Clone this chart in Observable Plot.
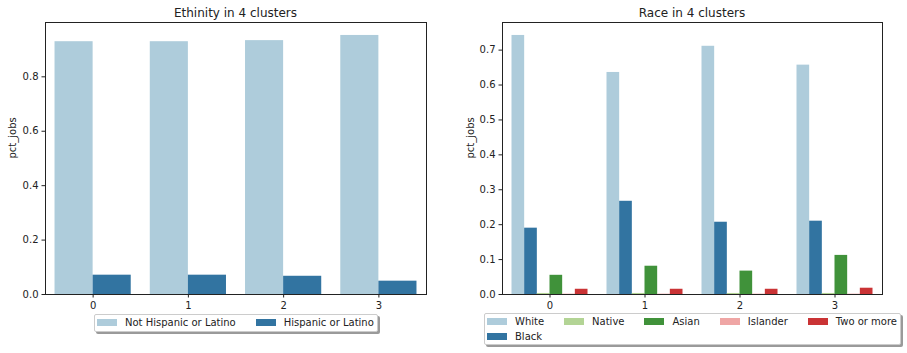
<!DOCTYPE html>
<html><head><meta charset="utf-8">
<script src="https://cdn.jsdelivr.net/npm/d3@7"></script>
<script src="https://cdn.jsdelivr.net/npm/@observablehq/plot@0.6"></script>
<style>
body{margin:0;background:#fff;font-family:"DejaVu Sans",sans-serif;color:#222}
#page{position:relative;width:907px;height:353px;overflow:hidden;background:#fff}
.panel{position:absolute;top:0}
.title{position:absolute;font-size:12px;white-space:nowrap;transform:translateX(-50%);line-height:14px}
.legend{position:absolute;border:1px solid #ccc;border-radius:2px;box-shadow:2px 2px 0 #9a9a9a;background:#fff;display:flex;padding:2px 3px 2px 2px;gap:20px;font-size:10px}
.col{display:flex;flex-direction:column;gap:3px}
.item{display:flex;align-items:center;height:11.7px;white-space:nowrap}
.sw{width:20px;height:7px;margin-right:8px;flex:none}
</style></head>
<body><div id="page"></div>
<script>
// ---- data ----
const clusters = [0, 1, 2, 3];

const ethnicitySeries = ["Not Hispanic or Latino", "Hispanic or Latino"];
const notHispanic = [0.929, 0.929, 0.933, 0.952];
const hispanic    = [0.071, 0.071, 0.067, 0.049];

const raceSeries = ["White", "Black", "Native", "Asian", "Islander", "Two or more"];
const white     = [0.742, 0.636, 0.711, 0.657];
const black     = [0.190, 0.267, 0.207, 0.210];
const native    = [0.003, 0.003, 0.003, 0.003];
const asian     = [0.055, 0.081, 0.067, 0.112];
const islander  = [0.001, 0.001, 0.001, 0.001];
const twoOrMore = [0.015, 0.015, 0.015, 0.018];

const ethTicks  = [0, 0.2, 0.4, 0.6, 0.8];
const raceTicks = [0, 0.1, 0.2, 0.3, 0.4, 0.5, 0.6, 0.7];

const ethColors  = ["#aeccdb", "#3274a1"];
const raceColors = ["#aeccdb", "#3274a1", "#b3d495", "#40923a", "#efa6a5", "#ca3335"];

// ---- build ----
const page = document.getElementById("page");

function rowsFor(series, values) {
  const w = 0.8 / series.length;
  const rows = [];
  clusters.forEach((c, i) => {
    series.forEach((s, k) => {
      const x1 = c - 0.4 + k * w;
      rows.push({cluster: c, series: s, value: values[k][i], x1, x2: x1 + w});
    });
  });
  return rows;
}

function chart({series, values, colors, ticks, left, width, marginLeft, marginRight, title, labelDx}) {
  const rows = rowsFor(series, values);
  const ymax = d3.max(rows, d => d.value) * 1.05;
  const svg = Plot.plot({
    width, height: 316,
    marginTop: 22, marginBottom: 22, marginLeft, marginRight,
    style: {fontFamily: "DejaVu Sans", fontSize: "10px", color: "#222", background: "transparent", overflow: "visible"},
    x: {domain: [-0.5, 3.5]},
    y: {domain: [0, ymax]},
    color: {domain: series, range: colors},
    marks: [
      Plot.rect(rows, {x1: "x1", x2: "x2", y1: 0, y2: "value", fill: "series"}),
      Plot.frame({stroke: "#222"}),
      Plot.axisX({ticks: clusters, tickFormat: d => String(d), tickSize: 3.5, tickPadding: 3.5, label: null}),
      Plot.axisY({ticks, tickFormat: d3.format(".1f"), tickSize: 3.5, tickPadding: 3.5, label: null}),
      Plot.text(["pct_jobs"], {frameAnchor: "left", rotate: -90, dx: labelDx, fontSize: 10})
    ]
  });
  const wrap = document.createElement("div");
  wrap.className = "panel";
  wrap.style.left = left + "px";
  wrap.appendChild(svg);
  page.appendChild(wrap);
  const t = document.createElement("div");
  t.className = "title";
  t.textContent = title;
  t.style.left = (left + marginLeft + (width - marginLeft - marginRight) / 2) + "px";
  t.style.top = "6px";
  page.appendChild(t);
}

function legend(series, colors, ncol, left, top) {
  const n = series.length;
  const nrows = Math.floor(n / ncol), large = n % ncol;
  const perCol = [];
  for (let i = 0; i < ncol; i++) perCol.push(i < large ? nrows + 1 : nrows);
  const box = document.createElement("div");
  box.className = "legend";
  box.style.left = left + "px";
  box.style.top = top + "px";
  let idx = 0;
  perCol.forEach(cnt => {
    if (!cnt) return;
    const col = document.createElement("div");
    col.className = "col";
    for (let r = 0; r < cnt; r++, idx++) {
      const it = document.createElement("div");
      it.className = "item";
      const sw = document.createElement("span");
      sw.className = "sw";
      sw.style.background = colors[idx];
      const tx = document.createElement("span");
      tx.textContent = series[idx];
      it.appendChild(sw); it.appendChild(tx);
      col.appendChild(it);
    }
    box.appendChild(col);
  });
  page.appendChild(box);
}

chart({series: ethnicitySeries, values: [notHispanic, hispanic], colors: ethColors, ticks: ethTicks,
  left: 0, width: 450, marginLeft: 45, marginRight: 24, title: "Ethinity in 4 clusters", labelDx: -33});
chart({series: raceSeries, values: [white, black, native, asian, islander, twoOrMore], colors: raceColors, ticks: raceTicks,
  left: 450, width: 457, marginLeft: 52, marginRight: 25, title: "Race in 4 clusters", labelDx: -32});

legend(ethnicitySeries, ethColors, 2, 94, 314);
legend(raceSeries, raceColors, 5, 484, 313);
</script>
</body></html>
